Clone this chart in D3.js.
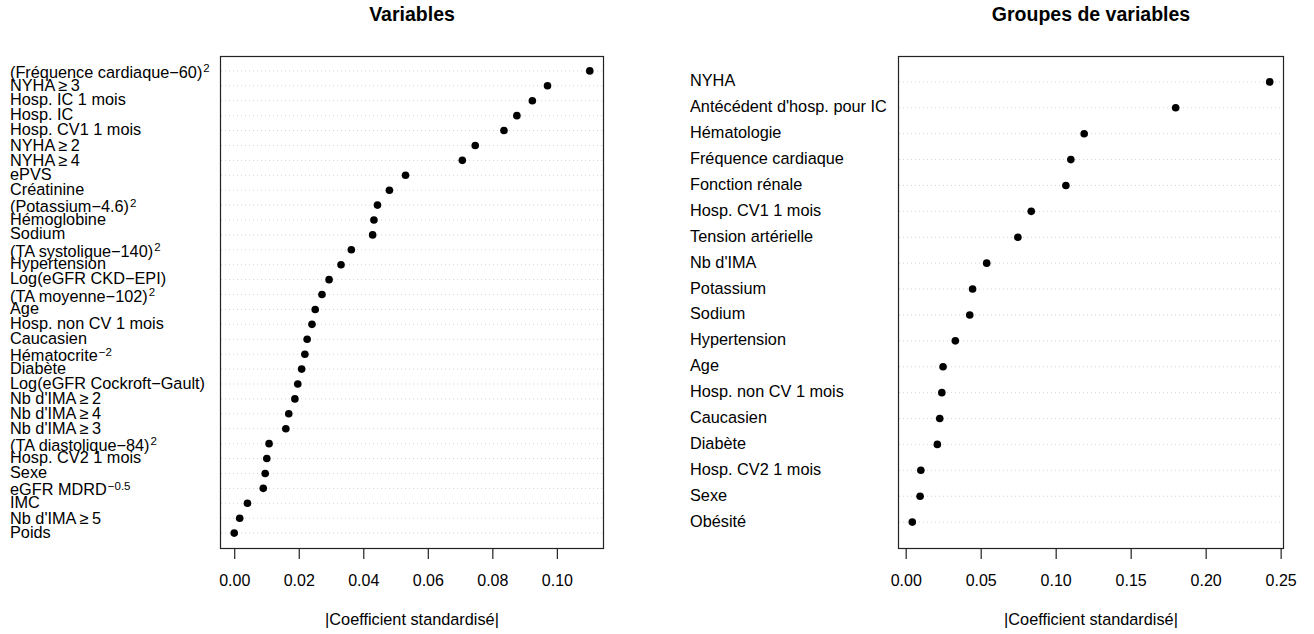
<!DOCTYPE html>
<html>
<head>
<meta charset="utf-8">
<script src="https://cdn.jsdelivr.net/npm/d3@7"></script>
<style>
  body { margin: 0; background: #fff; }
  svg { font-family: "Liberation Sans", Arial, Helvetica, sans-serif; }
  .lab { font-size: 16.3px; fill: #000; }
  .tick text { font-size: 16px; }
  .title { font-size: 19.5px; font-weight: bold; }
</style>
</head>
<body>
<div id="chart"></div>
<script>
// left panel: variables, top to bottom
var varLabels = ['(Fréquence cardiaque\u221260)', 'NYHA\u2009\u2265\u20093', 'Hosp. IC 1 mois', 'Hosp. IC',
                 'Hosp. CV1 1 mois', 'NYHA\u2009\u2265\u20092', 'NYHA\u2009\u2265\u20094', 'ePVS', 'Créatinine',
                 '(Potassium\u22124.6)', 'Hémoglobine', 'Sodium', '(TA systolique\u2212140)', 'Hypertension',
                 'Log(eGFR CKD\u2212EPI)', '(TA moyenne\u2212102)', 'Age', 'Hosp. non CV 1 mois', 'Caucasien',
                 'Hématocrite', 'Diabète', 'Log(eGFR Cockroft\u2212Gault)', 'Nb d\'IMA\u2009\u2265\u20092',
                 'Nb d\'IMA\u2009\u2265\u20094', 'Nb d\'IMA\u2009\u2265\u20093', '(TA diastolique\u221284)',
                 'Hosp. CV2 1 mois', 'Sexe', 'eGFR MDRD', 'IMC', 'Nb d\'IMA\u2009\u2265\u20095', 'Poids'],
    varSup = ['2', '', '', '', '', '', '', '', '', '2', '', '', '2', '', '', '2', '', '', '',
              '\u22122', '', '', '', '', '', '2', '', '', '\u22120.5', '', '', ''],
    varValues = [0.1102, 0.0971, 0.0924, 0.0876, 0.0836, 0.0747, 0.0707, 0.0531, 0.0481, 0.0444,
                 0.0433, 0.0429, 0.0363, 0.0331, 0.0294, 0.0272, 0.0251, 0.0241, 0.0226, 0.0219,
                 0.0209, 0.0197, 0.0188, 0.0169, 0.0160, 0.0108, 0.0101, 0.0096, 0.0090, 0.0041,
                 0.0017, 0.0000],
    varTicks = [0, 0.02, 0.04, 0.06, 0.08, 0.10],

    // right panel: groups of variables, top to bottom
    grpLabels = ['NYHA', 'Antécédent d\'hosp. pour IC', 'Hématologie', 'Fréquence cardiaque', 'Fonction rénale',
                 'Hosp. CV1 1 mois', 'Tension artérielle', 'Nb d\'IMA', 'Potassium', 'Sodium', 'Hypertension',
                 'Age', 'Hosp. non CV 1 mois', 'Caucasien', 'Diabète', 'Hosp. CV2 1 mois', 'Sexe', 'Obésité'],
    grpValues = [0.2427, 0.1800, 0.1190, 0.1101, 0.1068, 0.0837, 0.0748, 0.0540, 0.0446, 0.0427,
                 0.0331, 0.0249, 0.0241, 0.0227, 0.0211, 0.0101, 0.0096, 0.0044],
    grpTicks = [0, 0.05, 0.10, 0.15, 0.20, 0.25];

var w = 1314, h = 634,
    plot_top = 56, plot_bottom = 548;

var svg = d3.select('#chart').append('svg')
    .attr('width', w)
    .attr('height', h);

function dotchart(opt) {
    var n = opt.labels.length,
        lo = d3.min(opt.values), hi = d3.max(opt.values),
        ext = (hi - lo) * 0.04;

    var x = d3.scaleLinear()
        .domain([lo - ext, hi + ext])
        .range([opt.left, opt.right]);
    var y = d3.scaleLinear()
        .domain([0, n + 1])
        .range([plot_bottom, plot_top]);

    var rows = opt.labels.map(function(l, i){
        return {label: l, sup: opt.sup ? opt.sup[i] : '', value: opt.values[i], pos: n - i};
    });

    var g = svg.append('g');

    // dotted guide lines
    g.selectAll('line.guide')
        .data(rows)
      .enter().append('line')
        .attr('class', 'guide')
        .attr('x1', opt.left + 1)
        .attr('x2', opt.right - 1)
        .attr('y1', function(d){ return y(d.pos); })
        .attr('y2', function(d){ return y(d.pos); })
        .style('stroke', '#c8c8c8')
        .style('stroke-width', 0.8)
        .style('stroke-dasharray', '1,3');

    // points
    g.selectAll('circle')
        .data(rows)
      .enter().append('circle')
        .attr('cx', function(d){ return x(d.value); })
        .attr('cy', function(d){ return y(d.pos); })
        .attr('r', 3.8)
        .style('fill', '#000');

    // box
    g.append('rect')
        .attr('x', opt.left + 0.5)
        .attr('y', plot_top + 0.5)
        .attr('width', opt.right - opt.left - 1)
        .attr('height', plot_bottom - plot_top)
        .style('fill', 'none')
        .style('stroke', '#222')
        .style('stroke-width', 1.2);

    // row labels, left aligned
    var lab = g.selectAll('text.lab')
        .data(rows)
      .enter().append('text')
        .attr('class', 'lab')
        .attr('x', opt.labelX)
        .attr('y', function(d){
            var s = d.sup ? 7 : (d.label.indexOf('\u2265') >= 0 ? 5.5 : 4.5);
            return y(d.pos) + s;
        });
    lab.append('tspan').text(function(d){ return d.label; });
    lab.filter(function(d){ return d.sup; })
      .append('tspan')
        .attr('dy', -5.5)
        .attr('dx', 1)
        .style('font-size', '11.5px')
        .text(function(d){ return d.sup; });

    // x axis
    var axis = g.append('g')
        .attr('transform', 'translate(0,' + (plot_bottom + 0.5) + ')')
        .call(d3.axisBottom(x)
            .tickValues(opt.ticks)
            .tickFormat(d3.format('.2f'))
            .tickSize(10.5)
            .tickSizeOuter(0));
    axis.select('.domain').remove();
    axis.selectAll('.tick line').style('stroke', '#222').style('stroke-width', 1.2);
    axis.selectAll('.tick text')
        .attr('y', 37)
        .attr('dy', 0)
        .style('font-family', '"Liberation Sans", Arial, sans-serif')
        .style('font-size', '16px')
        .style('fill', '#000');

    var cx = (opt.left + opt.right) / 2;
    g.append('text')
        .attr('class', 'lab')
        .attr('x', cx)
        .attr('y', 625)
        .attr('text-anchor', 'middle')
        .text('|Coefficient standardisé|');

    g.append('text')
        .attr('class', 'title')
        .attr('x', cx)
        .attr('y', 21)
        .attr('text-anchor', 'middle')
        .text(opt.title);
}

dotchart({labels: varLabels, sup: varSup, values: varValues, ticks: varTicks,
          left: 220, right: 604, labelX: 10, title: 'Variables'});
dotchart({labels: grpLabels, values: grpValues, ticks: grpTicks,
          left: 898, right: 1284, labelX: 690, title: 'Groupes de variables'});
</script>
</body>
</html>
